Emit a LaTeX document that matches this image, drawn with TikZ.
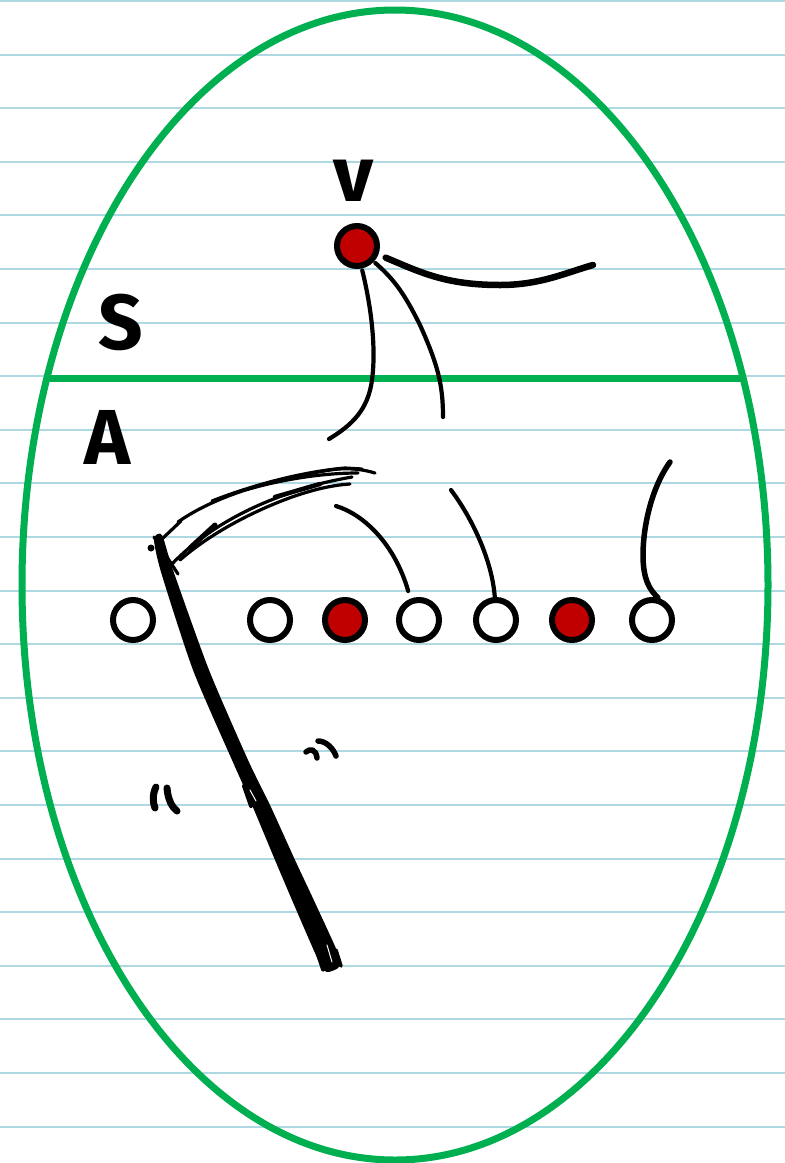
\documentclass[tikz,border=0pt]{standalone}
\usepackage{fontspec}
\setmainfont{Fira Sans}
\definecolor{ovalgreen}{HTML}{00AF50}
\definecolor{dotred}{HTML}{C00000}
\definecolor{ruleblue}{HTML}{AED9E3}
\tikzset{
  ruleline/.style={draw=ruleblue, line width=2pt},
  ovalline/.style={draw=ovalgreen, line width=7pt},
  dotnode/.style={circle, draw=black, line width=6pt, minimum size=40pt, inner sep=0pt, fill=white},
  reddot/.style={dotnode, fill=dotred},
  thinink/.style={draw=black, line width=4.2pt, line cap=round},
  midink/.style={draw=black, line width=5.5pt, line cap=round},
  fineink/.style={draw=black, line width=3.2pt, line cap=round},
  handink/.style={draw=black, line cap=round, line join=round},
  letter/.style={font=\fontsize{78}{78}\selectfont\bfseries, inner sep=0pt, anchor=center}
}
\begin{document}
\begin{tikzpicture}[x=1pt, y=-1pt]
\useasboundingbox (0,0) rectangle (785,1163);
\fill[white] (0,0) rectangle (785,1163);
% ruled paper
\foreach \k in {0,...,21} {
  \draw[ruleline] (0,{1+53.6*\k}) -- (785,{1+53.6*\k});
}
% oval and divider
\draw[ovalline] (395,585) ellipse [x radius=373, y radius=575];
\coordinate (divL) at (47,378);
\coordinate (divR) at (743,378);
\draw[ovalline] (divL) -- (divR);
% labels
\node[letter] (lblv) at (354,181) {v};
\node[letter] (lblS) at (121,322) {S};
\node[letter] (lblA) at (108,437) {A};
% vertices
\node[reddot] (v) at (357,246) {};
\node[dotnode] (d1) at (133,620) {};
\node[dotnode] (d2) at (270,620) {};
\node[reddot] (d3) at (345,620) {};
\node[dotnode] (d4) at (419,620) {};
\node[dotnode] (d5) at (496,620) {};
\node[reddot] (d6) at (572,620) {};
\node[dotnode] (d7) at (652,620) {};
% free ends
\coordinate (e1) at (329,439);
\coordinate (e2) at (443,417);
\coordinate (e3) at (593,265);
\coordinate (s4) at (336,506);
\coordinate (s5) at (451,490);
\coordinate (s7) at (670,462);
% edges from v
\draw[thinink, shorten <=2pt] (v.-78) .. controls (372,310) and (376,350) .. (372,380) .. controls (368,410) and (352,425) .. (e1);
\draw[thinink, shorten <=2pt] (v.-43) .. controls (395,280) and (405,295) .. (420,325) .. controls (438,365) and (443,385) .. (e2);
\draw[handink, line width=6.5pt, shorten <=8pt] (v.-22) .. controls (420,272) and (445,285) .. (500,285) .. controls (540,285) and (565,273) .. (e3);
% edges into dots
\draw[thinink, shorten >=8pt] (s4) .. controls (365,515) and (395,545) .. (d4.112);
\draw[thinink] (s5) .. controls (472,518) and (492,560) .. (d5.93);
\draw[midink] (s7) .. controls (650,490) and (643,530) .. (643,555) .. controls (643,580) and (650,590) .. (d7.75);
% scythe blade strokes
\draw[fineink] (163,538) -- (181,521);
\draw[fineink] (178,522) .. controls (215,496) and (270,480) .. (330,470) .. controls (350,467) and (365,470) .. (375,473);
\draw[fineink] (212,501) .. controls (250,486) and (300,472) .. (345,468) -- (362,469);
\draw[fineink] (245,490) .. controls (280,480) and (320,473) .. (358,473);
\draw[fineink] (173,563) .. controls (200,535) and (240,510) .. (290,493) .. controls (315,484) and (335,480) .. (352,477);
\draw[fineink] (180,560) .. controls (205,538) and (245,514) .. (292,497) .. controls (318,488) and (335,485) .. (350,484);
\draw[handink, line width=5pt] (190,548) -- (215,525);
\draw[handink, line width=4.5pt] (275,497) -- (320,484);
\draw[fineink] (154,537) -- (178,574);
\fill (151,548) circle (3.5pt);
% scythe handle (tapered stroke)
\fill[black, line join=round] plot[smooth cycle, tension=0.4] coordinates {
  (162,535) (173,570) (209,670) (248,760) (270,805) (295,860) (317,907) (340,958)
  (338,968) (327,972) (320,964) (295,907) (275,860) (252,805) (232,760) (193,670) (161,572) (154,539)};
\draw[handink, line width=4pt] (244,786) -- (251,806);
\draw[handink, line width=4pt] (291,868) -- (294,897);
\draw[handink, line width=3.5pt] (318,955) -- (323,970);
\draw[handink, line width=3.5pt] (336,950) -- (341,966);
\draw[white, line width=1pt, line cap=round] (327,945) -- (332,962);
\draw[white, line width=1pt, line cap=round] (250,790) -- (256,801);
% ditto marks
\draw[handink, line width=7pt] (156,787) .. controls (152,795) and (153,803) .. (155,808);
\draw[handink, line width=7pt] (167,788) .. controls (168,800) and (172,807) .. (177,811);
\draw[handink, line width=5.5pt] (306,752) .. controls (310,748) and (316,749) .. (317,758);
\draw[handink, line width=5.5pt] (318,741) .. controls (326,741) and (333,748) .. (336,756);
\end{tikzpicture}
\end{document}
